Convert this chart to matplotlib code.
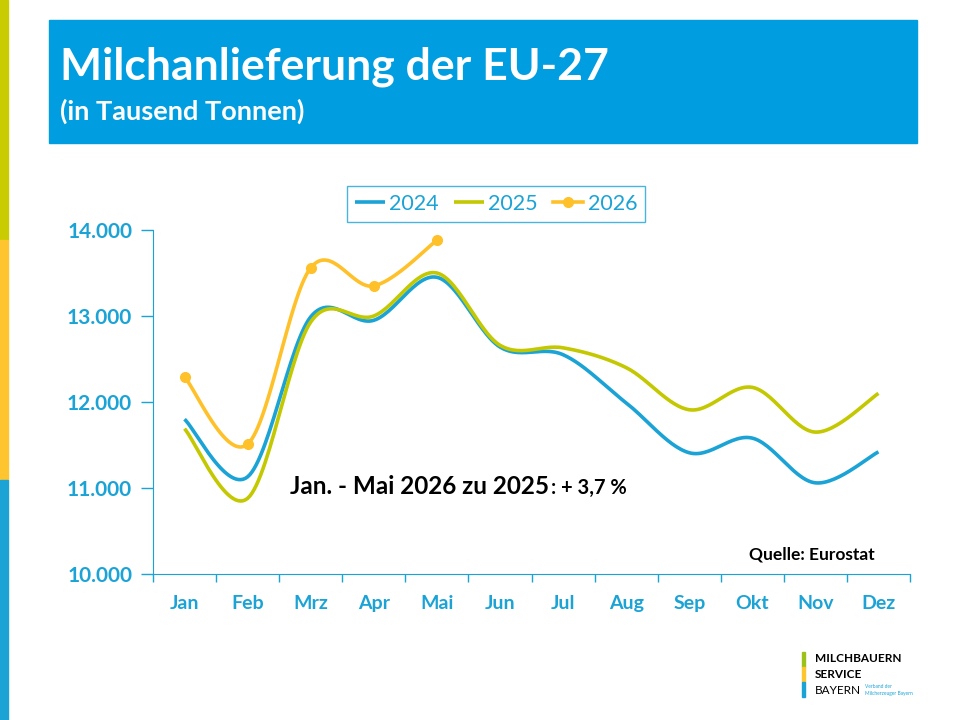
import numpy as np
import matplotlib.pyplot as plt
from matplotlib.patches import Rectangle

# data (Tausend Tonnen)
MONTHS = ["Jan", "Feb", "Mrz", "Apr", "Mai", "Jun", "Jul", "Aug", "Sep", "Okt", "Nov", "Dez"]
MILK_2024 = [11800, 11130, 12990, 12950, 13450, 12640, 12550, 11990, 11410, 11580, 11060, 11420]
MILK_2025 = [11690, 10880, 12930, 13000, 13500, 12660, 12630, 12400, 11910, 12170, 11650, 12100]
MILK_2026 = [12290, 11510, 13560, 13350, 13880]

BLUE = '#1BA3D6'
OLIVE = '#C3C800'
GOLD = '#FFC12A'
HEADER = '#009EE0'
TICK_BLUE = '#1BA3D6'

plt.rcParams['font.family'] = ['Lato', 'DejaVu Sans']

W, H = 960, 720


def px(x, y):
    return x / W, 1 - y / H


def smooth(xs, ys, n=30):
    # excel-like smoothed line (catmull-rom / bezier)
    pts = np.column_stack([xs, ys]).astype(float)
    ext = np.vstack([pts[0], pts, pts[-1]])
    out = []
    t = np.linspace(0, 1, n)[:, None]
    for i in range(1, len(ext) - 2):
        p0, p1, p2, p3 = ext[i - 1], ext[i], ext[i + 1], ext[i + 2]
        c1 = p1 + (p2 - p0) / 6
        c2 = p2 - (p3 - p1) / 6
        seg = ((1 - t) ** 3) * p1 + 3 * ((1 - t) ** 2) * t * c1 + 3 * (1 - t) * t ** 2 * c2 + t ** 3 * p2
        out.append(seg if i == 1 else seg[1:])
    arr = np.vstack(out)
    return arr[:, 0], arr[:, 1]


fig = plt.figure(figsize=(9.6, 7.2), dpi=100)
fig.patch.set_facecolor('white')

# side strip
fig.patches.append(Rectangle(px(0, 240), 8 / W, 240 / H, transform=fig.transFigure, color='#C8CC00', zorder=0))
fig.patches.append(Rectangle(px(0, 480), 8 / W, 240 / H, transform=fig.transFigure, color='#FFC52E', zorder=0))
fig.patches.append(Rectangle(px(0, 720), 8 / W, 240 / H, transform=fig.transFigure, color='#1BA3D6', zorder=0))

# header
fig.patches.append(Rectangle(px(49, 143), (917 - 49) / W, (143 - 20) / H, transform=fig.transFigure, color=HEADER, zorder=0))
fig.text(*px(60, 67), 'Milchanlieferung der EU-27', color='white', fontsize=32, weight='bold', va='center')
fig.text(*px(60, 111), '(in Tausend Tonnen)', color='white', fontsize=19.5, weight='bold', va='center')

# chart
ax = fig.add_axes([153 / W, 1 - 574 / H, (910 - 153) / W, (574 - 230) / H])
x = np.arange(len(MONTHS))
for vals, col, lab in [(MILK_2024, BLUE, '2024'), (MILK_2025, OLIVE, '2025')]:
    sx, sy = smooth(x[:len(vals)], vals)
    ax.plot(sx, sy, color=col, lw=2.6, label=lab, solid_capstyle='butt')
sx, sy = smooth(x[:len(MILK_2026)], MILK_2026)
ax.plot(sx, sy, color=GOLD, lw=2.6, solid_capstyle='butt')
ax.plot(x[:len(MILK_2026)], MILK_2026, 'o', color=GOLD, ms=7)
ax.plot([], [], '-o', color=GOLD, lw=2.6, ms=7, label='2026')

ax.set_xlim(-0.5, 11.5)
ax.set_ylim(10000, 14000)
ax.set_xticks(x)
ax.set_xticklabels(MONTHS)
ax.set_xticks(np.arange(-0.5, 12, 1), minor=True)
ax.set_yticks(np.arange(10000, 14001, 1000))
ax.set_yticklabels([f'{v:,}'.replace(',', '.') for v in range(10000, 14001, 1000)])
ax.tick_params(axis='x', which='major', length=0, pad=15, labelcolor=TICK_BLUE, labelsize=14)
ax.tick_params(axis='x', which='minor', length=6, color=TICK_BLUE, width=1)
ax.tick_params(axis='y', length=9, color=TICK_BLUE, width=1, labelcolor=TICK_BLUE, labelsize=15, pad=6)
for lbl in ax.get_xticklabels() + ax.get_yticklabels():
    lbl.set_fontweight('bold')
for s in ['top', 'right']:
    ax.spines[s].set_visible(False)
ax.spines['left'].set_color(TICK_BLUE)
ax.spines['bottom'].set_color(TICK_BLUE)

leg = ax.legend(loc='upper center', bbox_to_anchor=(0.453, 1.16), ncol=3, frameon=True, fancybox=False,
                fontsize=15.5, handlelength=1.4, handletextpad=0.2, columnspacing=0.7, borderpad=0.38)
leg.get_frame().set_edgecolor(TICK_BLUE)
leg.get_frame().set_linewidth(1)
for t in leg.get_texts():
    t.set_color(TICK_BLUE)

# notes
t1 = fig.text(*px(290, 486), 'Jan. - Mai 2026 zu 2025', fontsize=17.5, weight='bold', va='center')
fig.canvas.draw()
bb = t1.get_window_extent()
fig.text(bb.x1 / W + 0.002, 1 - 488 / H, ': + 3,7 %', fontsize=14.5, weight='bold', va='center')
fig.text(*px(875, 555), 'Quelle: Eurostat', fontsize=12.5, weight='bold', ha='right', va='center')

# logo
fig.patches.append(Rectangle(px(802, 667), 2.5 / W, 15 / H, transform=fig.transFigure, color='#9CC21A'))
fig.patches.append(Rectangle(px(802, 682), 2.5 / W, 15 / H, transform=fig.transFigure, color='#FFC52E'))
fig.patches.append(Rectangle(px(802, 697), 2.5 / W, 15 / H, transform=fig.transFigure, color='#1BA3D6'))
fig.text(*px(815, 659), 'MILCHBAUERN', fontsize=8.5, weight='bold', va='center')
fig.text(*px(815, 675), 'SERVICE', fontsize=8.5, weight='bold', va='center')
fig.text(*px(815, 691), 'BAYERN', fontsize=8.5, va='center')
fig.text(*px(865, 687), 'Verband der', fontsize=3.5, color=TICK_BLUE, va='center')
fig.text(*px(865, 694), 'Milcherzeuger Bayern', fontsize=3.5, color=TICK_BLUE, va='center')

plt.savefig('out.png', dpi=100)
